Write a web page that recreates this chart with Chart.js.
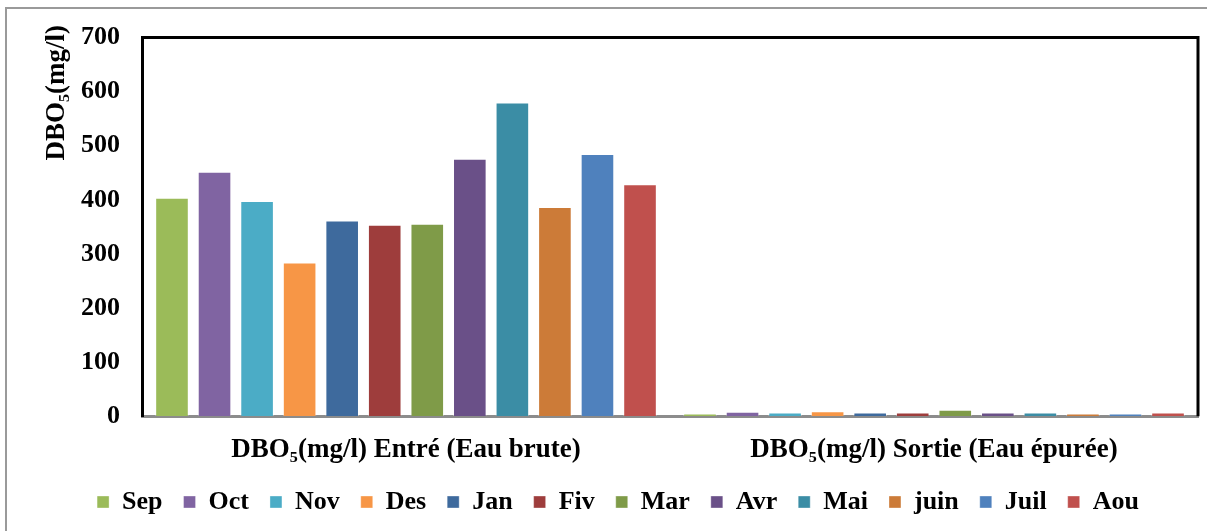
<!DOCTYPE html>
<html lang="fr">
<head>
  <meta charset="UTF-8" />
  <title>DBO5 Entrée / Sortie</title>
  <script src="https://cdn.jsdelivr.net/npm/chart.js"></script>
  <style>
    html, body { margin: 0; padding: 0; background: #fff; overflow: hidden; }
    .frame { position: absolute; left: 5px; top: 7px; width: 1400px; height: 700px; border: 2px solid #9a9a9a; }
    .wrap { position: absolute; left: 0; top: 0; width: 1207px; height: 531px; }
  </style>
</head>
<body>
  <div class="frame"></div>
  <div class="wrap"><canvas id="dboChart"></canvas></div>

  <script>
    // data
    const categories = ['DBO\u2085(mg/l) Entré (Eau brute)', 'DBO\u2085(mg/l) Sortie (Eau épurée)'];
    const months = ['Sep', 'Oct', 'Nov', 'Des', 'Jan', 'Fiv', 'Mar', 'Avr', 'Mai', 'juin', 'Juil', 'Aou'];
    const entree = [404, 452, 398, 284, 362, 354, 356, 476, 580, 387, 485, 429];
    const sortie = [5, 8, 7, 9, 7, 7, 12, 7, 7, 5, 5, 7];
    const yTicks = [0, 100, 200, 300, 400, 500, 600, 700];
    const yTitle = 'DBO\u2085(mg/l)';

    const colors = ['#9BBB59', '#8064A2', '#4BACC6', '#F79646', '#3E6A9D', '#9E3D3C',
                    '#7F9B48', '#6A5088', '#3B8DA5', '#CC7B38', '#4F81BD', '#C0504D'];

    const serif = "'Liberation Serif', 'Times New Roman', serif";

    // black box on top and right of plot area + y axis title sitting above the plot top
    const plotFrame = {
      id: 'plotFrame',
      afterDraw(chart) {
        const { ctx, chartArea: a } = chart;
        ctx.save();
        ctx.strokeStyle = '#000';
        ctx.lineWidth = 3;
        ctx.beginPath();
        ctx.moveTo(a.left, a.top);
        ctx.lineTo(a.right, a.top);
        ctx.lineTo(a.right, a.bottom);
        ctx.stroke();

        ctx.translate(57, 25);
        ctx.rotate(-Math.PI / 2);
        ctx.fillStyle = '#000';
        ctx.font = 'bold 27px ' + serif;
        ctx.textAlign = 'right';
        ctx.textBaseline = 'middle';
        ctx.fillText(yTitle, 0, 0);
        ctx.restore();
      }
    };

    const datasets = months.map((m, i) => ({
      label: m,
      data: [entree[i], sortie[i]],
      backgroundColor: colors[i],
      borderColor: 'rgba(255,255,255,0.35)',
      borderWidth: 1,
      barPercentage: 0.79,
      categoryPercentage: 0.967
    }));

    new Chart(document.getElementById('dboChart'), {
      type: 'bar',
      data: { labels: categories, datasets: datasets },
      options: {
        responsive: true,
        maintainAspectRatio: false,
        animation: false,
        layout: { padding: { left: 38, right: 9, top: 15, bottom: 6 } },
        plugins: {
          legend: {
            position: 'bottom',
            labels: {
              boxWidth: 12, boxHeight: 12, padding: 21,
              color: '#000',
              font: { family: serif, size: 26, weight: 'bold' }
            }
          },
          tooltip: { enabled: false }
        },
        scales: {
          x: {
            grid: { display: false, drawTicks: false },
            border: { display: true, color: '#8c8c8c', width: 3 },
            ticks: { color: '#000', padding: 18, font: { family: serif, size: 27, weight: 'bold' } },
            afterFit(scale) { scale.height -= 16.6; }
          },
          y: {
            min: 0, max: 700,
            afterBuildTicks(axis) { axis.ticks = yTicks.map(v => ({ value: v })); },
            grid: { display: false, drawTicks: false },
            border: { display: true, color: '#000', width: 3 },
            ticks: { color: '#000', padding: 22, font: { family: serif, size: 26, weight: 'bold' } },
            afterFit(scale) { scale.width += 21; }
          }
        }
      },
      plugins: [plotFrame]
    });
  </script>
</body>
</html>
